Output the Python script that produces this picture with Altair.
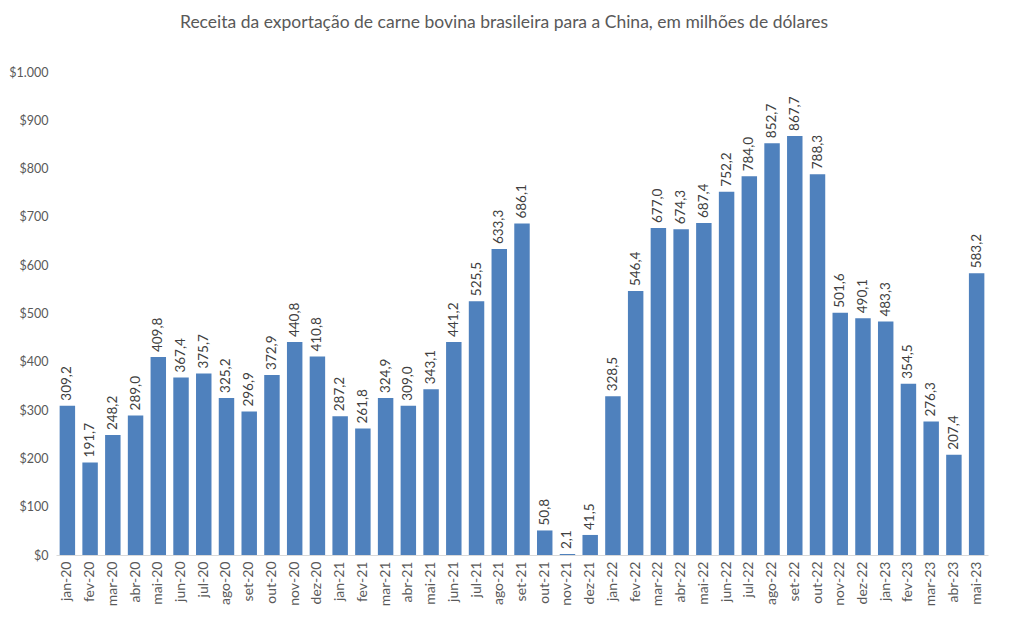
import altair as alt
import pandas as pd

months = ["jan-20","fev-20","mar-20","abr-20","mai-20","jun-20","jul-20","ago-20","set-20","out-20","nov-20","dez-20",
          "jan-21","fev-21","mar-21","abr-21","mai-21","jun-21","jul-21","ago-21","set-21","out-21","nov-21","dez-21",
          "jan-22","fev-22","mar-22","abr-22","mai-22","jun-22","jul-22","ago-22","set-22","out-22","nov-22","dez-22",
          "jan-23","fev-23","mar-23","abr-23","mai-23"]
values = [309.2,191.7,248.2,289.0,409.8,367.4,375.7,325.2,296.9,372.9,440.8,410.8,
          287.2,261.8,324.9,309.0,343.1,441.2,525.5,633.3,686.1,50.8,2.1,41.5,
          328.5,546.4,677.0,674.3,687.4,752.2,784.0,852.7,867.7,788.3,501.6,490.1,
          483.3,354.5,276.3,207.4,583.2]

df = pd.DataFrame({"mes": months, "valor": values})
df["rotulo"] = [f"{v:.1f}".replace(".", ",") for v in values]

FONT = "Lato"

x = alt.X("mes:N", sort=months, title=None,
          scale=alt.Scale(paddingInner=0.32),
          axis=alt.Axis(labelAngle=-90, labelFont=FONT, labelFontSize=14, labelColor="#595959",
                        domainColor="#D9D9D9", ticks=False, labelPadding=6))
y = alt.Y("valor:Q", title=None,
          scale=alt.Scale(domain=[0, 1000], nice=False),
          axis=alt.Axis(values=list(range(0, 1001, 100)), grid=False, domain=False, ticks=False,
                        labelFont=FONT, labelFontSize=12.5, labelColor="#595959", labelPadding=8,
                        labelExpr='"$" + replace(format(datum.value, ",.0f"), ",", ".")'))

bars = alt.Chart(df).mark_bar(color="#4F81BD").encode(x=x, y=y)
labels = alt.Chart(df).mark_text(angle=270, align="left", baseline="middle", dx=5,
                                 font=FONT, fontSize=13.5, color="#404040").encode(
    x=alt.X("mes:N", sort=months), y="valor:Q", text="rotulo:N")

chart = alt.layer(bars, labels).properties(
    width=932, height=483,
    autosize=alt.AutoSizeParams(type="none"),
    padding={"left": 48, "top": 64, "right": 10, "bottom": 60},
    title=alt.TitleParams("Receita da exportação de carne bovina brasileira para a China, em milhões de dólares",
                          font=FONT, fontSize=17.5, fontWeight="normal", color="#595959", offset=35,
                          anchor="middle", dx=-18),
).configure_view(stroke=None)

chart.save("out.html", embed_options={"renderer": "svg", "actions": False})
